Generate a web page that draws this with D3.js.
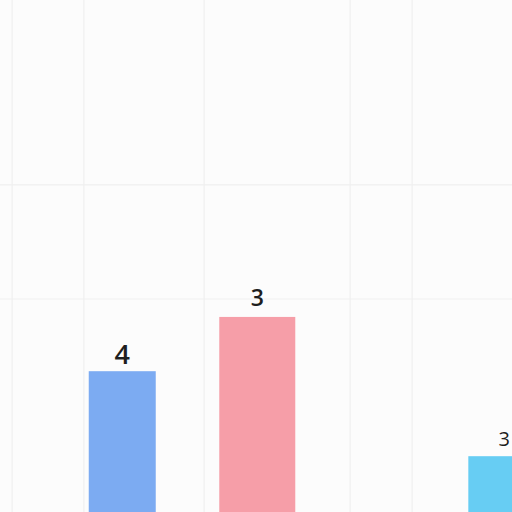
<!DOCTYPE html>
<html>
<head>
<meta charset="utf-8">
<script src="https://cdn.jsdelivr.net/npm/d3@7"></script>
<style>
  html, body { margin: 0; padding: 0; background: #fcfcfc; }
  svg { display: block; }
</style>
</head>
<body>
<div id="chart"></div>
<script>
// chart values
var categories = ['A', 'B', 'C']
var xValues = [1.91, 4.02, 7.88]
var heights = [2.75, 3.81, 1.09]
var labels = ['4', '3', '3']
var xGridValues = [0.19, 1.31, 3.19, 5.47, 6.44]
var yGridValues = [4.16, 6.39]

var width = 512
var height = 512
var colors = ['#7cabf2', '#f69ea8', '#67cdf3']
var barWidths = [67, 76, 72]
var labelSizes = [27, 23, 20]
var labelGaps = [7, 11, 10]

function go () {
  var svg = d3.select('#chart').append('svg')
    .attr('width', width).attr('height', height)

  svg.append('rect').attr('width', width).attr('height', height).attr('fill', '#fcfcfc')

  var x = d3.scaleLinear().domain([0, 8]).range([0, width])
  var y = d3.scaleLinear().domain([0, 10]).range([height, 0])

  // faint grid
  var grid = svg.append('g').attr('class', 'grid')
  grid.selectAll('.vline')
    .data(xGridValues)
    .enter()
    .append('line')
    .attr('x1', d => x(d)).attr('x2', d => x(d))
    .attr('y1', 0).attr('y2', height)
    .style('stroke', '#efefef')
    .style('stroke-width', '1.2px')

  grid.selectAll('.hline')
    .data(yGridValues)
    .enter()
    .append('line')
    .attr('x1', 0).attr('x2', width)
    .attr('y1', d => y(d)).attr('y2', d => y(d))
    .style('stroke', '#efefef')
    .style('stroke-width', '1.2px')

  svg.append('g').attr('class', 'bars').selectAll('rect')
    .data(categories)
    .enter()
    .append('rect')
    .attr('x', (d, i) => x(xValues[i]) - barWidths[i] / 2)
    .attr('width', (d, i) => barWidths[i])
    .attr('y', (d, i) => y(heights[i]))
    .attr('height', (d, i) => y(0) - y(heights[i]))
    .style('fill', (d, i) => colors[i])

  svg.append('g').attr('class', 'labels').selectAll('text')
    .data(labels)
    .enter()
    .append('text')
    .attr('x', (d, i) => x(xValues[i]))
    .attr('y', (d, i) => y(heights[i]) - labelGaps[i])
    .attr('text-anchor', 'middle')
    .style('font-family', '"Open Sans", "Noto Sans", sans-serif')
    .style('font-weight', (d, i) => i == 2 ? 400 : 600)
    .style('font-size', (d, i) => labelSizes[i] + 'px')
    .style('fill', '#1e1e1e')
    .text(d => d)
}

document.addEventListener('DOMContentLoaded', go)
</script>
</body>
</html>
